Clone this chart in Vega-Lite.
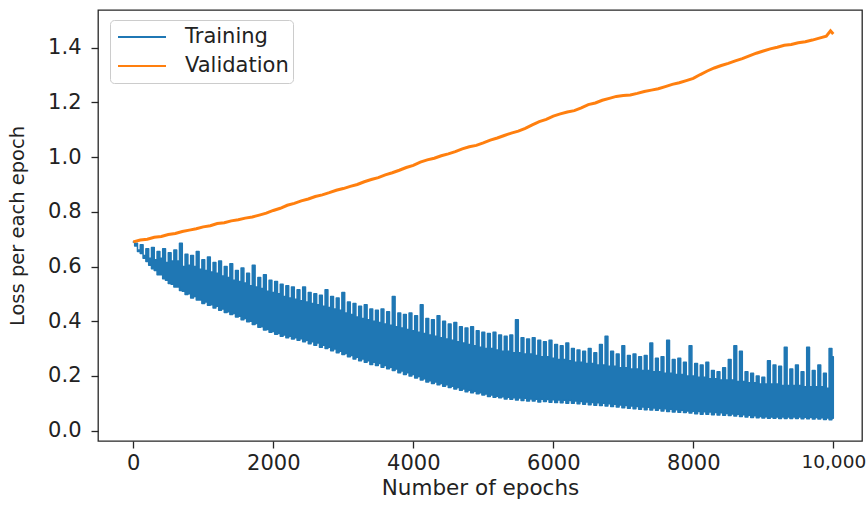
{
"$schema":"https://vega.github.io/schema/vega-lite/v6.json",
"width":764,"height":431,
"autosize":{"type":"none"},
"padding":{"left":98,"top":10,"right":4,"bottom":64},
"background":"white",
"config":{
 "font":"DejaVu Sans",
 "view":{"stroke":"#262626","strokeWidth":1.3},
 "axis":{"domain":false,"grid":false,"tickColor":"#262626","tickWidth":1.3,"tickSize":7,"labelColor":"#222","titleColor":"#222","labelFont":"DejaVu Sans","titleFont":"DejaVu Sans","titleFontWeight":"normal"}
},
"datasets":{
"train":[
{"e":0,"lo":0.69,"hi":0.69},{"e":40,"lo":0.675,"hi":0.685},{"e":80,"lo":0.66,"hi":0.655},{"e":120,"lo":0.648,"hi":0.68},{"e":160,"lo":0.63,"hi":0.64},{"e":200,"lo":0.618,"hi":0.665},{"e":240,"lo":0.605,"hi":0.63},{"e":280,"lo":0.592,"hi":0.67},{"e":320,"lo":0.585,"hi":0.625},{"e":360,"lo":0.57,"hi":0.655},
{"e":400,"lo":0.57,"hi":0.63},{"e":440,"lo":0.555,"hi":0.665},{"e":480,"lo":0.55,"hi":0.615},{"e":520,"lo":0.538,"hi":0.65},{"e":560,"lo":0.535,"hi":0.62},{"e":600,"lo":0.525,"hi":0.66},{"e":640,"lo":0.525,"hi":0.62},{"e":680,"lo":0.512,"hi":0.685},{"e":720,"lo":0.51,"hi":0.6},{"e":760,"lo":0.498,"hi":0.645},
{"e":800,"lo":0.5,"hi":0.605},{"e":840,"lo":0.485,"hi":0.64},{"e":880,"lo":0.49,"hi":0.6},{"e":920,"lo":0.478,"hi":0.655},{"e":960,"lo":0.478,"hi":0.59},{"e":1000,"lo":0.465,"hi":0.625},{"e":1040,"lo":0.47,"hi":0.585},{"e":1080,"lo":0.458,"hi":0.635},{"e":1120,"lo":0.46,"hi":0.58},{"e":1160,"lo":0.448,"hi":0.615},
{"e":1200,"lo":0.455,"hi":0.575},{"e":1240,"lo":0.44,"hi":0.62},{"e":1280,"lo":0.445,"hi":0.565},{"e":1320,"lo":0.432,"hi":0.6},{"e":1360,"lo":0.435,"hi":0.56},{"e":1400,"lo":0.425,"hi":0.61},{"e":1440,"lo":0.428,"hi":0.55},{"e":1480,"lo":0.415,"hi":0.585},{"e":1520,"lo":0.418,"hi":0.545},{"e":1560,"lo":0.405,"hi":0.595},
{"e":1600,"lo":0.41,"hi":0.54},{"e":1640,"lo":0.398,"hi":0.575},{"e":1680,"lo":0.4,"hi":0.53},{"e":1720,"lo":0.388,"hi":0.605},{"e":1760,"lo":0.392,"hi":0.525},{"e":1800,"lo":0.378,"hi":0.56},{"e":1840,"lo":0.38,"hi":0.52},{"e":1880,"lo":0.368,"hi":0.57},{"e":1920,"lo":0.37,"hi":0.51},{"e":1960,"lo":0.36,"hi":0.55},
{"e":2000,"lo":0.362,"hi":0.505},{"e":2040,"lo":0.352,"hi":0.545},{"e":2080,"lo":0.355,"hi":0.5},{"e":2120,"lo":0.345,"hi":0.535},{"e":2160,"lo":0.35,"hi":0.49},{"e":2200,"lo":0.34,"hi":0.53},{"e":2240,"lo":0.345,"hi":0.485},{"e":2280,"lo":0.335,"hi":0.525},{"e":2320,"lo":0.34,"hi":0.48},{"e":2360,"lo":0.33,"hi":0.515},
{"e":2400,"lo":0.336,"hi":0.475},{"e":2440,"lo":0.325,"hi":0.525},{"e":2480,"lo":0.33,"hi":0.47},{"e":2520,"lo":0.318,"hi":0.505},{"e":2560,"lo":0.325,"hi":0.465},{"e":2600,"lo":0.312,"hi":0.5},{"e":2640,"lo":0.32,"hi":0.46},{"e":2680,"lo":0.305,"hi":0.495},{"e":2720,"lo":0.312,"hi":0.455},{"e":2760,"lo":0.3,"hi":0.515},
{"e":2800,"lo":0.305,"hi":0.45},{"e":2840,"lo":0.292,"hi":0.49},{"e":2880,"lo":0.298,"hi":0.445},{"e":2920,"lo":0.285,"hi":0.485},{"e":2960,"lo":0.29,"hi":0.44},{"e":3000,"lo":0.278,"hi":0.505},{"e":3040,"lo":0.282,"hi":0.43},{"e":3080,"lo":0.27,"hi":0.47},{"e":3120,"lo":0.275,"hi":0.425},{"e":3160,"lo":0.262,"hi":0.465},
{"e":3200,"lo":0.268,"hi":0.415},{"e":3240,"lo":0.255,"hi":0.455},{"e":3280,"lo":0.262,"hi":0.41},{"e":3320,"lo":0.25,"hi":0.46},{"e":3360,"lo":0.255,"hi":0.405},{"e":3400,"lo":0.242,"hi":0.445},{"e":3440,"lo":0.25,"hi":0.4},{"e":3480,"lo":0.238,"hi":0.44},{"e":3520,"lo":0.245,"hi":0.395},{"e":3560,"lo":0.232,"hi":0.445},
{"e":3600,"lo":0.238,"hi":0.39},{"e":3640,"lo":0.226,"hi":0.435},{"e":3680,"lo":0.232,"hi":0.385},{"e":3720,"lo":0.22,"hi":0.49},{"e":3760,"lo":0.225,"hi":0.38},{"e":3800,"lo":0.212,"hi":0.43},{"e":3840,"lo":0.218,"hi":0.375},{"e":3880,"lo":0.205,"hi":0.425},{"e":3920,"lo":0.212,"hi":0.37},{"e":3960,"lo":0.2,"hi":0.43},
{"e":4000,"lo":0.205,"hi":0.365},{"e":4040,"lo":0.192,"hi":0.42},{"e":4080,"lo":0.198,"hi":0.36},{"e":4120,"lo":0.185,"hi":0.46},{"e":4160,"lo":0.19,"hi":0.355},{"e":4200,"lo":0.178,"hi":0.41},{"e":4240,"lo":0.182,"hi":0.35},{"e":4280,"lo":0.172,"hi":0.405},{"e":4320,"lo":0.178,"hi":0.345},{"e":4360,"lo":0.168,"hi":0.42},
{"e":4400,"lo":0.172,"hi":0.34},{"e":4440,"lo":0.162,"hi":0.4},{"e":4480,"lo":0.168,"hi":0.335},{"e":4520,"lo":0.158,"hi":0.39},{"e":4560,"lo":0.162,"hi":0.33},{"e":4600,"lo":0.152,"hi":0.395},{"e":4640,"lo":0.158,"hi":0.325},{"e":4680,"lo":0.148,"hi":0.38},{"e":4720,"lo":0.152,"hi":0.32},{"e":4760,"lo":0.142,"hi":0.375},
{"e":4800,"lo":0.148,"hi":0.315},{"e":4840,"lo":0.138,"hi":0.38},{"e":4880,"lo":0.144,"hi":0.31},{"e":4920,"lo":0.135,"hi":0.365},{"e":4960,"lo":0.138,"hi":0.305},{"e":5000,"lo":0.13,"hi":0.36},{"e":5040,"lo":0.134,"hi":0.3},{"e":5080,"lo":0.125,"hi":0.355},{"e":5120,"lo":0.13,"hi":0.3},{"e":5160,"lo":0.122,"hi":0.36},
{"e":5200,"lo":0.126,"hi":0.295},{"e":5240,"lo":0.12,"hi":0.35},{"e":5280,"lo":0.124,"hi":0.29},{"e":5320,"lo":0.116,"hi":0.345},{"e":5360,"lo":0.122,"hi":0.29},{"e":5400,"lo":0.115,"hi":0.35},{"e":5440,"lo":0.12,"hi":0.285},{"e":5480,"lo":0.112,"hi":0.405},{"e":5520,"lo":0.119,"hi":0.285},{"e":5560,"lo":0.11,"hi":0.34},
{"e":5600,"lo":0.118,"hi":0.28},{"e":5640,"lo":0.108,"hi":0.335},{"e":5680,"lo":0.116,"hi":0.28},{"e":5720,"lo":0.108,"hi":0.34},{"e":5760,"lo":0.115,"hi":0.275},{"e":5800,"lo":0.105,"hi":0.33},{"e":5840,"lo":0.115,"hi":0.27},{"e":5880,"lo":0.106,"hi":0.325},{"e":5920,"lo":0.114,"hi":0.27},{"e":5960,"lo":0.104,"hi":0.33},
{"e":6000,"lo":0.113,"hi":0.265},{"e":6040,"lo":0.103,"hi":0.315},{"e":6080,"lo":0.112,"hi":0.26},{"e":6120,"lo":0.102,"hi":0.31},{"e":6160,"lo":0.111,"hi":0.26},{"e":6200,"lo":0.1,"hi":0.32},{"e":6240,"lo":0.11,"hi":0.255},{"e":6280,"lo":0.1,"hi":0.3},{"e":6320,"lo":0.108,"hi":0.25},{"e":6360,"lo":0.098,"hi":0.295},
{"e":6400,"lo":0.106,"hi":0.25},{"e":6440,"lo":0.096,"hi":0.29},{"e":6480,"lo":0.105,"hi":0.245},{"e":6520,"lo":0.095,"hi":0.3},{"e":6560,"lo":0.103,"hi":0.245},{"e":6600,"lo":0.093,"hi":0.285},{"e":6640,"lo":0.102,"hi":0.24},{"e":6680,"lo":0.092,"hi":0.315},{"e":6720,"lo":0.1,"hi":0.24},{"e":6760,"lo":0.09,"hi":0.345},
{"e":6800,"lo":0.098,"hi":0.235},{"e":6840,"lo":0.088,"hi":0.29},{"e":6880,"lo":0.096,"hi":0.235},{"e":6920,"lo":0.086,"hi":0.28},{"e":6960,"lo":0.094,"hi":0.23},{"e":7000,"lo":0.084,"hi":0.31},{"e":7040,"lo":0.092,"hi":0.23},{"e":7080,"lo":0.082,"hi":0.275},{"e":7120,"lo":0.09,"hi":0.225},{"e":7160,"lo":0.08,"hi":0.28},
{"e":7200,"lo":0.088,"hi":0.225},{"e":7240,"lo":0.078,"hi":0.27},{"e":7280,"lo":0.086,"hi":0.22},{"e":7320,"lo":0.076,"hi":0.275},{"e":7360,"lo":0.085,"hi":0.22},{"e":7400,"lo":0.075,"hi":0.32},{"e":7440,"lo":0.083,"hi":0.215},{"e":7480,"lo":0.074,"hi":0.265},{"e":7520,"lo":0.081,"hi":0.215},{"e":7560,"lo":0.072,"hi":0.27},
{"e":7600,"lo":0.08,"hi":0.21},{"e":7640,"lo":0.07,"hi":0.33},{"e":7680,"lo":0.078,"hi":0.21},{"e":7720,"lo":0.068,"hi":0.26},{"e":7760,"lo":0.076,"hi":0.205},{"e":7800,"lo":0.067,"hi":0.265},{"e":7840,"lo":0.074,"hi":0.205},{"e":7880,"lo":0.066,"hi":0.25},{"e":7920,"lo":0.072,"hi":0.2},{"e":7960,"lo":0.064,"hi":0.31},
{"e":8000,"lo":0.071,"hi":0.2},{"e":8040,"lo":0.062,"hi":0.245},{"e":8080,"lo":0.07,"hi":0.195},{"e":8120,"lo":0.06,"hi":0.24},{"e":8160,"lo":0.069,"hi":0.195},{"e":8200,"lo":0.06,"hi":0.25},{"e":8240,"lo":0.068,"hi":0.19},{"e":8280,"lo":0.058,"hi":0.22},{"e":8320,"lo":0.066,"hi":0.19},{"e":8360,"lo":0.057,"hi":0.215},
{"e":8400,"lo":0.065,"hi":0.185},{"e":8440,"lo":0.056,"hi":0.23},{"e":8480,"lo":0.063,"hi":0.185},{"e":8520,"lo":0.055,"hi":0.26},{"e":8560,"lo":0.061,"hi":0.185},{"e":8600,"lo":0.053,"hi":0.31},{"e":8640,"lo":0.06,"hi":0.18},{"e":8680,"lo":0.052,"hi":0.29},{"e":8720,"lo":0.058,"hi":0.18},{"e":8760,"lo":0.05,"hi":0.215},
{"e":8800,"lo":0.056,"hi":0.175},{"e":8840,"lo":0.048,"hi":0.21},{"e":8880,"lo":0.054,"hi":0.175},{"e":8920,"lo":0.047,"hi":0.2},{"e":8960,"lo":0.052,"hi":0.17},{"e":9000,"lo":0.046,"hi":0.195},{"e":9040,"lo":0.051,"hi":0.17},{"e":9080,"lo":0.045,"hi":0.255},{"e":9120,"lo":0.05,"hi":0.17},{"e":9160,"lo":0.045,"hi":0.24},
{"e":9200,"lo":0.05,"hi":0.17},{"e":9240,"lo":0.044,"hi":0.235},{"e":9280,"lo":0.05,"hi":0.165},{"e":9320,"lo":0.044,"hi":0.305},{"e":9360,"lo":0.05,"hi":0.165},{"e":9400,"lo":0.044,"hi":0.225},{"e":9440,"lo":0.05,"hi":0.165},{"e":9480,"lo":0.044,"hi":0.24},{"e":9520,"lo":0.05,"hi":0.165},{"e":9560,"lo":0.043,"hi":0.215},
{"e":9600,"lo":0.049,"hi":0.16},{"e":9640,"lo":0.043,"hi":0.305},{"e":9680,"lo":0.049,"hi":0.16},{"e":9720,"lo":0.042,"hi":0.22},{"e":9760,"lo":0.048,"hi":0.16},{"e":9800,"lo":0.042,"hi":0.24},{"e":9840,"lo":0.047,"hi":0.16},{"e":9880,"lo":0.041,"hi":0.21},{"e":9920,"lo":0.046,"hi":0.155},{"e":9960,"lo":0.04,"hi":0.3},
{"e":10000,"lo":0.045,"hi":0.27}
],
"val":[
{"e":0,"y":0.69},{"e":100,"y":0.697},{"e":200,"y":0.7},{"e":300,"y":0.707},{"e":400,"y":0.71},{"e":500,"y":0.717},{"e":600,"y":0.721},{"e":700,"y":0.728},{"e":800,"y":0.733},{"e":900,"y":0.738},
{"e":1000,"y":0.745},{"e":1100,"y":0.749},{"e":1200,"y":0.757},{"e":1300,"y":0.76},{"e":1400,"y":0.767},{"e":1500,"y":0.771},{"e":1600,"y":0.777},{"e":1700,"y":0.781},{"e":1800,"y":0.788},{"e":1900,"y":0.795},
{"e":2000,"y":0.805},{"e":2100,"y":0.813},{"e":2200,"y":0.824},{"e":2300,"y":0.831},{"e":2400,"y":0.84},{"e":2500,"y":0.847},{"e":2600,"y":0.856},{"e":2700,"y":0.862},{"e":2800,"y":0.87},{"e":2900,"y":0.879},
{"e":3000,"y":0.885},{"e":3100,"y":0.893},{"e":3200,"y":0.9},{"e":3300,"y":0.91},{"e":3400,"y":0.918},{"e":3500,"y":0.925},{"e":3600,"y":0.935},{"e":3700,"y":0.943},{"e":3800,"y":0.952},{"e":3900,"y":0.962},
{"e":4000,"y":0.97},{"e":4100,"y":0.982},{"e":4200,"y":0.99},{"e":4300,"y":0.996},{"e":4400,"y":1.005},{"e":4500,"y":1.012},{"e":4600,"y":1.02},{"e":4700,"y":1.03},{"e":4800,"y":1.038},{"e":4900,"y":1.043},
{"e":5000,"y":1.052},{"e":5100,"y":1.062},{"e":5200,"y":1.07},{"e":5300,"y":1.079},{"e":5400,"y":1.088},{"e":5500,"y":1.095},{"e":5600,"y":1.105},{"e":5700,"y":1.118},{"e":5800,"y":1.13},{"e":5900,"y":1.138},
{"e":6000,"y":1.15},{"e":6100,"y":1.158},{"e":6200,"y":1.165},{"e":6300,"y":1.17},{"e":6400,"y":1.18},{"e":6500,"y":1.192},{"e":6600,"y":1.198},{"e":6700,"y":1.208},{"e":6800,"y":1.215},{"e":6900,"y":1.222},
{"e":7000,"y":1.225},{"e":7100,"y":1.227},{"e":7200,"y":1.233},{"e":7300,"y":1.24},{"e":7400,"y":1.245},{"e":7500,"y":1.25},{"e":7600,"y":1.258},{"e":7700,"y":1.266},{"e":7800,"y":1.272},{"e":7900,"y":1.28},
{"e":8000,"y":1.288},{"e":8100,"y":1.302},{"e":8200,"y":1.315},{"e":8300,"y":1.326},{"e":8400,"y":1.335},{"e":8500,"y":1.343},{"e":8600,"y":1.352},{"e":8700,"y":1.36},{"e":8800,"y":1.37},{"e":8900,"y":1.38},
{"e":9000,"y":1.388},{"e":9100,"y":1.396},{"e":9200,"y":1.402},{"e":9300,"y":1.409},{"e":9400,"y":1.412},{"e":9500,"y":1.418},{"e":9600,"y":1.422},{"e":9700,"y":1.428},{"e":9800,"y":1.435},{"e":9900,"y":1.442},
{"e":9960,"y":1.462},{"e":10000,"y":1.45}
]
},
"layer":[
 {"data":{"name":"train"},"mark":{"type":"area","interpolate":"step","color":"#1f77b4","stroke":"#1f77b4","strokeWidth":1.5,"strokeJoin":"round"},
  "encoding":{
   "x":{"field":"e","type":"quantitative","scale":{"domain":[-504,10410],"nice":false,"zero":false},
    "axis":{"values":[0,2000,4000,6000,8000,10000],"labelExpr":"datum.value == 10000 ? '10,000' : format(datum.value, 'd')","labelFontSize":{"condition":{"test":"datum.value == 10000","value":18.5},"value":21},"labelPadding":4,"title":"Number of epochs","titleFontSize":21.5,"titlePadding":4}},
   "y":{"field":"lo","type":"quantitative","scale":{"domain":[-0.038,1.538],"nice":false,"zero":false},
    "axis":{"values":[0,0.2,0.4,0.6,0.8,1.0,1.2,1.4],"format":".1f","labelFontSize":21,"labelPadding":10,"title":"Loss per each epoch","titleFontSize":19.5,"titlePadding":20}},
   "y2":{"field":"hi"}
  }},
 {"data":{"name":"val"},"mark":{"type":"line","strokeWidth":3},
  "encoding":{
   "x":{"field":"e","type":"quantitative"},
   "y":{"field":"y","type":"quantitative"},
   "color":{"datum":"Validation","type":"nominal","scale":{"domain":["Training","Validation"],"range":["#1f77b4","#ff7f0e"]},
   "legend":{"title":null,"orient":"none","legendX":12,"legendY":10,"symbolType":"stroke","symbolSize":2304,"symbolStrokeWidth":2,"symbolOffset":3,"labelFontSize":21,"labelFont":"DejaVu Sans","labelColor":"#222","labelOffset":18,"clipHeight":26,"rowPadding":3,"padding":4,"fillColor":"rgba(255,255,255,0.8)","strokeColor":"#cccccc","cornerRadius":4}}}}
]
}
